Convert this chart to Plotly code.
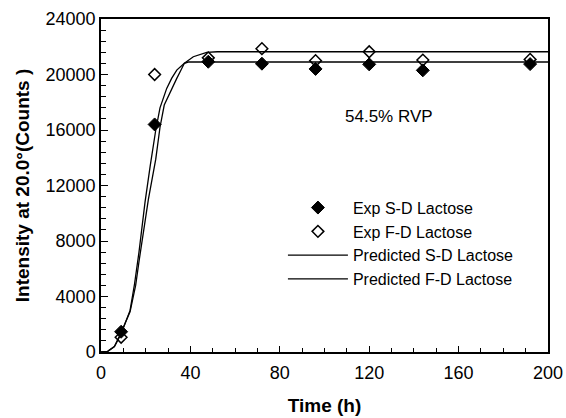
import plotly.graph_objects as go

# Experimental data
time_exp = [9, 24, 48, 72, 96, 120, 144, 192]
sd_exp = [1460, 16400, 20920, 20780, 20400, 20730, 20300, 20750]
fd_exp = [1060, 20000, 21200, 21860, 21000, 21640, 21040, 21090]

# Predicted curves
fd_pred_t = [0, 3, 6, 9, 13, 15, 17, 19.7, 22, 24.5, 26.4, 29.4, 31.6, 33.9, 37.3, 41.3, 47.3, 52, 200]
fd_pred_y = [0, 50, 400, 1300, 3000, 4900, 7200, 10800, 13400, 16000, 17600, 19000, 19720, 20320, 20810, 21280, 21600, 21640, 21640]
sd_pred_t = [0, 3, 6, 9, 13, 15.5, 17.1, 21.2, 24.5, 26.4, 28.3, 31.6, 33.9, 35.8, 37.3, 39, 200]
sd_pred_y = [0, 50, 400, 1400, 2900, 4800, 6630, 11000, 13900, 16200, 17800, 19000, 19720, 20320, 20810, 20900, 20900]

font_family = "Liberation Sans, Arial, sans-serif"

fig = go.Figure()
fig.add_trace(go.Scatter(x=time_exp, y=sd_exp, mode="markers", name="Exp S-D Lactose",
                         marker=dict(symbol="diamond", size=10, color="black",
                                     line=dict(color="black", width=1))))
fig.add_trace(go.Scatter(x=time_exp, y=fd_exp, mode="markers", name="Exp F-D Lactose",
                         marker=dict(symbol="diamond-open", size=9, color="black",
                                     line=dict(color="black", width=1.5))))
fig.add_trace(go.Scatter(x=sd_pred_t, y=sd_pred_y, mode="lines", name="Predicted S-D Lactose",
                         line=dict(color="black", width=1.3)))
fig.add_trace(go.Scatter(x=fd_pred_t, y=fd_pred_y, mode="lines", name="Predicted F-D Lactose",
                         line=dict(color="black", width=1.3)))

fig.add_annotation(x=129, y=17000, text="54.5% RVP", showarrow=False,
                   font=dict(family=font_family, size=17, color="black"))

fig.update_layout(
    width=566, height=418,
    margin=dict(l=101, r=18, t=19, b=66, autoexpand=False),
    paper_bgcolor="white", plot_bgcolor="white",
    font=dict(family=font_family, color="black", size=18),
    showlegend=True,
    legend=dict(x=0.407, y=0.4845, xanchor="left", yanchor="top",
                bgcolor="rgba(0,0,0,0)", font=dict(size=16),
                itemwidth=60, tracegroupgap=0),
    xaxis=dict(range=[0, 200], dtick=40, tick0=0, showgrid=False, zeroline=False,
               automargin=False, tickformat="d", ticklabelstandoff=4,
               showline=True, linecolor="black", linewidth=1.5, mirror=True,
               ticks="inside", ticklen=6, tickwidth=1.2, tickcolor="black",
               minor=dict(dtick=10, ticks="inside", ticklen=4, tickwidth=1.2, tickcolor="black", showgrid=False),
               title=dict(text="<b>Time (h)</b>", font=dict(size=19), standoff=16)),
    yaxis=dict(range=[0, 24000], dtick=4000, tick0=0, showgrid=False, zeroline=False,
               automargin=False, tickformat="d",
               showline=True, linecolor="black", linewidth=1.5, mirror=True,
               ticks="inside", ticklen=7, tickwidth=1.2, tickcolor="black",
               minor=dict(dtick=800, ticks="inside", ticklen=5, tickwidth=1.2, tickcolor="black", showgrid=False),
               title=dict(text="<b>Intensity at 20.0°(Counts )</b>", font=dict(size=19), standoff=11)),
)

fig.write_html("out.html", config={"displayModeBar": False},
               post_script="document.body.style.margin='0';document.body.style.overflow='hidden';")
